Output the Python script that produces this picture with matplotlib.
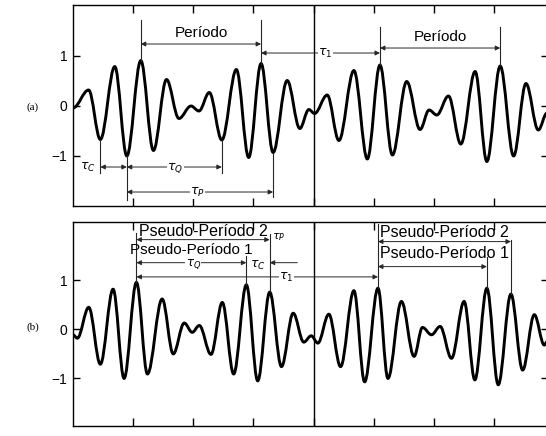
import matplotlib
matplotlib.use("Agg")
import matplotlib.pyplot as plt
from matplotlib.path import Path
from matplotlib.patches import PathPatch

plt.rcParams['font.family'] = ['Liberation Sans', 'DejaVu Sans']
plt.rcParams['mathtext.fontset'] = 'dejavusans'

# Successive extrema (time, amplitude) of the two signals
a_t = [0.000, 0.260, 0.455, 0.695, 0.895, 1.128, 1.338, 1.555, 1.762, 1.962,
       2.095, 2.267, 2.475, 2.717, 2.922, 3.128, 3.328, 3.562, 3.772, 3.922,
       4.017, 4.228, 4.422, 4.672, 4.895, 5.105, 5.312, 5.550, 5.772, 5.922,
       6.050, 6.245, 6.450, 6.688, 6.883, 7.105, 7.328, 7.533, 7.738, 7.883]
a_v = [-0.05, 0.31, -0.68, 0.78, -1.01, 0.90, -0.90, 0.52, -0.26, -0.01,
       -0.11, 0.26, -0.69, 0.72, -1.04, 0.84, -0.94, 0.50, -0.46, -0.08,
       -0.16, 0.21, -0.70, 0.70, -1.07, 0.81, -0.99, 0.48, -0.48, -0.09,
       -0.19, 0.19, -0.77, 0.68, -1.12, 0.79, -1.01, 0.44, -0.49, -0.15]

b_t = [0.000, 0.072, 0.262, 0.455, 0.667, 0.850, 1.055, 1.238, 1.483, 1.667,
       1.850, 1.983, 2.100, 2.295, 2.483, 2.672, 2.883, 3.072, 3.272, 3.467,
       3.662, 3.838, 3.962, 4.072, 4.255, 4.450, 4.672, 4.850, 5.072, 5.238,
       5.462, 5.672, 5.812, 5.962, 6.105, 6.295, 6.505, 6.683, 6.883, 7.072,
       7.283, 7.478, 7.672, 7.838, 7.883]
b_v = [-0.11, -0.18, 0.45, -0.71, 0.82, -1.00, 0.96, -0.91, 0.62, -0.50,
       0.13, -0.06, 0.08, -0.51, 0.55, -0.91, 0.91, -1.05, 0.76, -0.76,
       0.33, -0.26, -0.13, -0.28, 0.31, -0.76, 0.79, -1.07, 0.84, -1.00,
       0.57, -0.55, 0.04, -0.11, 0.06, -0.59, 0.57, -1.03, 0.84, -1.13,
       0.72, -0.83, 0.30, -0.32, -0.25]

x_ticks = [1, 2, 3, 4, 5, 6, 7]
y_ticks = [-1, 0, 1]
y_labels = ['\u22121', '0', '1']
divider_t = 4.0


def wave(ax, t, v, k=0.36):
    verts = [(t[0], v[0])]
    codes = [Path.MOVETO]
    for i in range(len(t) - 1):
        dx = t[i + 1] - t[i]
        verts += [(t[i] + k * dx, v[i]), (t[i + 1] - k * dx, v[i + 1]),
                  (t[i + 1], v[i + 1])]
        codes += [Path.CURVE4] * 3
    ax.add_patch(PathPatch(Path(verts, codes), facecolor='none',
                           edgecolor='black', lw=2.1, capstyle='round',
                           joinstyle='round'))


def setup(ax, ylim):
    ax.set_xlim(0, 7.9)
    ax.set_ylim(*ylim)
    ax.set_xticks(x_ticks)
    ax.set_yticks(y_ticks)
    ax.set_yticklabels(y_labels, fontsize=10)
    ax.tick_params(axis='x', direction='in', top=True, bottom=True,
                   labelbottom=False, length=6, width=1)
    ax.tick_params(axis='y', direction='in', left=True, right=True,
                   length=5, width=1, pad=4)
    for s in ax.spines.values():
        s.set_linewidth(1.0)
    ax.axvline(divider_t, color='black', lw=1.0)


def vline(ax, x, y0, y1):
    ax.plot([x, x], [y0, y1], color='0.15', lw=0.8)


def arrow(ax, x0, x1, y, style='<|-|>'):
    ax.annotate('', xy=(x1, y), xytext=(x0, y),
                arrowprops=dict(arrowstyle=style, lw=0.7, color='0.15',
                                mutation_scale=7, shrinkA=0, shrinkB=0))


def label(ax, x, y, s, size=11, box=False, ha='center'):
    kw = {}
    if box:
        kw['bbox'] = dict(facecolor='white', edgecolor='none', pad=0.3)
    ax.text(x, y, s, fontsize=size, ha=ha, va='center', **kw)


fig = plt.figure(figsize=(5.46, 4.36), dpi=100)
ax_a = fig.add_axes([0.1337, 0.5275, 0.870, 0.461])
ax_b = fig.add_axes([0.1337, 0.0229, 0.870, 0.468])

# ---- (a) periodic signal ----
setup(ax_a, (-2.01, 2.01))
wave(ax_a, a_t, a_v)

p3, p8, p13, p18 = 5, 15, 25, 35
for i, top in ((p3, 1.71), (p8, 1.71), (p13, 1.57), (p18, 1.57)):
    vline(ax_a, a_t[i], a_v[i], top)
arrow(ax_a, a_t[p3], a_t[p8], 1.23)
label(ax_a, (a_t[p3] + a_t[p8]) / 2, 1.46, 'Período')
arrow(ax_a, a_t[p13], a_t[p18], 1.15)
label(ax_a, (a_t[p13] + a_t[p18]) / 2, 1.38, 'Período')
arrow(ax_a, a_t[p8], a_t[p13], 1.05)
label(ax_a, 4.2, 1.05, r'$\tau_1$', size=9, box=True)

tr1, tr2, tr6, tr8 = 2, 4, 12, 16
vline(ax_a, a_t[tr1], a_v[tr1], -1.35)
vline(ax_a, a_t[tr2], a_v[tr2], -1.89)
vline(ax_a, a_t[tr6], a_v[tr6], -1.35)
vline(ax_a, a_t[tr8], a_v[tr8], -1.83)
arrow(ax_a, a_t[tr1], a_t[tr2], -1.23)
label(ax_a, 0.25, -1.23, r'$\tau_C$', size=9)
arrow(ax_a, a_t[tr2], a_t[tr6], -1.23)
label(ax_a, 1.7, -1.25, r'$\tau_Q$', size=9, box=True)
arrow(ax_a, a_t[tr2], a_t[tr8], -1.73)
label(ax_a, 2.07, -1.73, r'$\tau_P$', size=9, box=True)

# ---- (b) quasi-periodic signal ----
setup(ax_b, (-1.97, 2.19))
wave(ax_b, b_t, b_v)

q3, q8, q9, q14, q19, q20 = 6, 16, 18, 28, 38, 40
vline(ax_b, b_t[q3], b_v[q3], 1.97)
vline(ax_b, b_t[q8], b_v[q8], 1.50)
vline(ax_b, b_t[q9], b_v[q9], 1.95)
arrow(ax_b, b_t[q3], b_t[q9], 1.83)
label(ax_b, (b_t[q3] + b_t[q9]) / 2, 2.0, 'Pseudo-Período 2', size=11.5)
label(ax_b, (b_t[q3] + b_t[q8]) / 2, 1.61, 'Pseudo-Período 1', size=11)
arrow(ax_b, b_t[q3], b_t[q8], 1.36)
label(ax_b, 2.0, 1.33, r'$\tau_Q$', size=8.5, box=True)
arrow(ax_b, 3.73, b_t[q9], 1.36, style='-|>')
label(ax_b, 3.07, 1.31, r'$\tau_C$', size=9)
label(ax_b, 3.42, 1.88, r'$\tau_P$', size=8)
arrow(ax_b, b_t[q3], b_t[q14], 1.07)
label(ax_b, 3.55, 1.05, r'$\tau_1$', size=9, box=True)

vline(ax_b, b_t[q14], b_v[q14], 2.15)
vline(ax_b, b_t[q19], b_v[q19], 1.48)
vline(ax_b, b_t[q20], b_v[q20], 1.83)
arrow(ax_b, b_t[q14], b_t[q20], 1.79)
label(ax_b, 6.17, 1.97, 'Pseudo-Período 2', size=11.5)
arrow(ax_b, b_t[q14], b_t[q19], 1.28)
label(ax_b, 6.17, 1.55, 'Pseudo-Período 1', size=11.5)

fig.text(33 / 546, 1 - 107 / 436, '(a)', fontsize=8, family='Liberation Serif',
         ha='center', va='center')
fig.text(33 / 546, 1 - 327 / 436, '(b)', fontsize=8, family='Liberation Serif',
         ha='center', va='center')

fig.savefig('out.png', dpi=100)
